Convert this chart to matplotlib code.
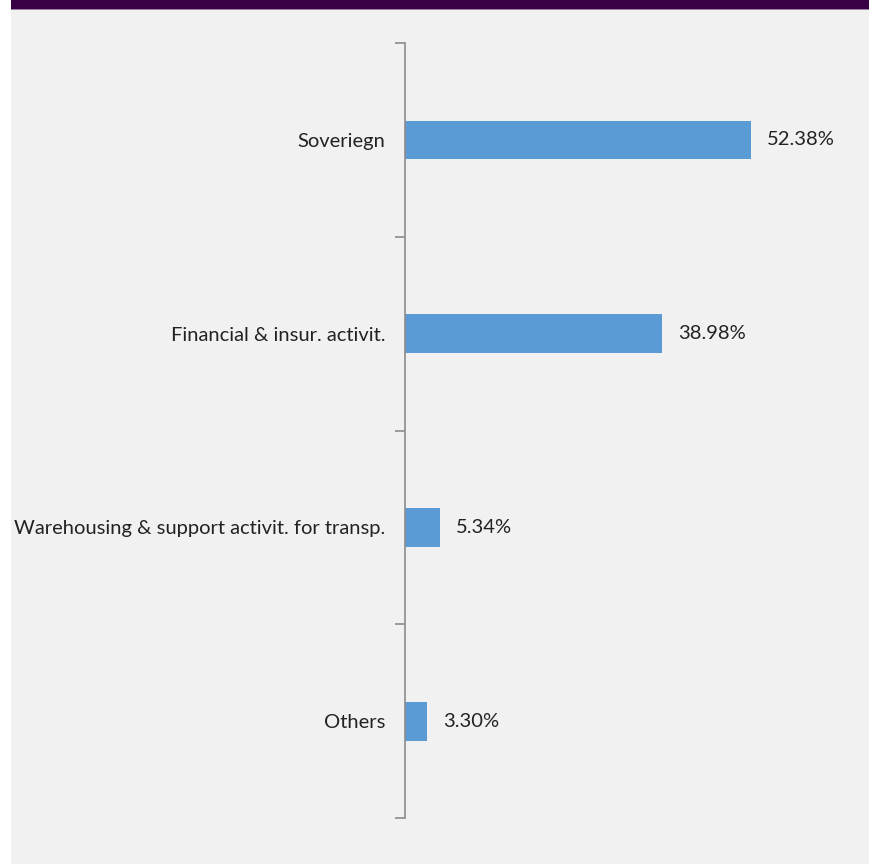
import matplotlib.pyplot as plt
from matplotlib.patches import Rectangle

# Portfolio breakdown by sector (% of total)
sectors = ["Soveriegn", "Financial & insur. activit.",
           "Warehousing & support activit. for transp.", "Others"]
shares = [52.38, 38.98, 5.34, 3.30]
share_labels = ["52.38%", "38.98%", "5.34%", "3.30%"]

W, H = 870, 864
fig = plt.figure(figsize=(W / 100, H / 100), dpi=100, facecolor="white")

# light panel and dark header strip
fig.patches.append(Rectangle((11 / W, 0), 1 - 11 / W, 1, transform=fig.transFigure,
                             facecolor="#f1f1f1", edgecolor="none", zorder=-3))
fig.patches.append(Rectangle((11 / W, 1 - 9 / H), 1 - 11 / W, 9 / H, transform=fig.transFigure,
                             facecolor="#3a0046", edgecolor="none", zorder=-2))
fig.patches.append(Rectangle((11 / W, 1 - 10 / H), 1 - 11 / W, 1.2 / H, transform=fig.transFigure,
                             facecolor="#9a7fa0", edgecolor="none", zorder=-2))

ax = fig.add_axes([405 / W, 46 / H, 455 / W, 775 / H])
ax.set_facecolor("none")
ax.set_zorder(2)

ypos = list(range(len(sectors)))
bars = ax.barh(ypos, shares, height=0.2, color="#5b9bd5", zorder=2)
ax.bar_label(bars, labels=share_labels, padding=11.5, fontsize=14.5,
             family="Lato", color="#222222")

ax.set_xlim(0, 455 / (346 / 52.38))
ax.set_ylim(len(sectors) - 0.5, -0.5)

# tick marks on category boundaries, names in the middle
ax.set_yticks([i - 0.5 for i in range(len(sectors) + 1)])
ax.set_yticklabels([])
ax.set_yticks(ypos, minor=True)
ax.set_yticklabels(sectors, minor=True, fontsize=14.5, family="Lato", color="#222222")
ax.tick_params(axis="y", which="major", length=7, width=1.2, color="#8c8c8c", direction="out")
ax.tick_params(axis="y", which="minor", length=0, pad=14)
ax.set_xticks([])

for side in ["top", "right", "bottom"]:
    ax.spines[side].set_visible(False)
ax.spines["left"].set_color("#8c8c8c")
ax.spines["left"].set_linewidth(1.2)

fig.savefig("out.png", dpi=100, facecolor=fig.get_facecolor())
